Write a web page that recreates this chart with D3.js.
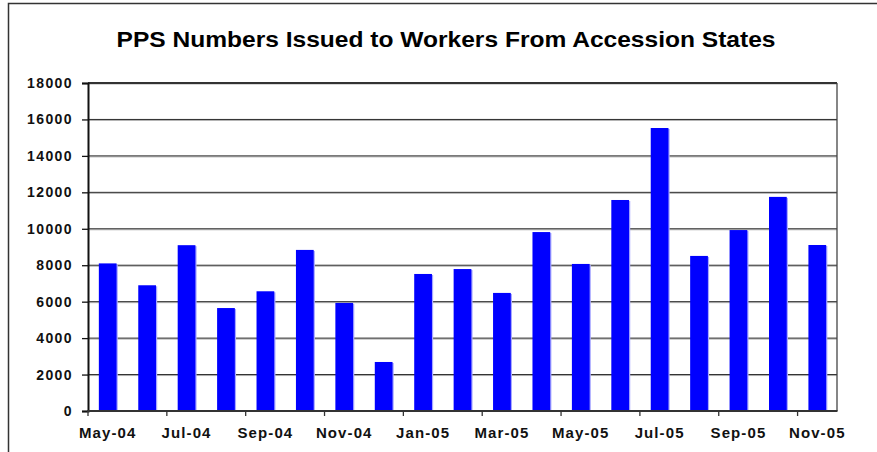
<!DOCTYPE html>
<html>
<head>
<meta charset="utf-8">
<script src="https://cdn.jsdelivr.net/npm/d3@7"></script>
<style>
  html, body { margin: 0; padding: 0; background: #fff; }
  svg { display: block; font-family: "Liberation Sans", Arial, sans-serif; }
</style>
</head>
<body>
<svg id="chart" width="877" height="452"></svg>
<script>
// Monthly PPS numbers issued to workers from the accession states
const months = ["May-04","Jun-04","Jul-04","Aug-04","Sep-04","Oct-04","Nov-04","Dec-04",
                "Jan-05","Feb-05","Mar-05","Apr-05","May-05","Jun-05","Jul-05","Aug-05",
                "Sep-05","Oct-05","Nov-05"];
const issued = [8100, 6900, 9100, 5650, 6570, 8840, 5930, 2690,
                7520, 7790, 6480, 9820, 8070, 11580, 15530, 8510,
                9930, 11750, 9110];
const yTicks = [0, 2000, 4000, 6000, 8000, 10000, 12000, 14000, 16000, 18000];
const titleText = "PPS Numbers Issued to Workers From Accession States";

const svg = d3.select("#chart");
const plot = { left: 88, right: 837, top: 83, bottom: 411 };

// outer chart frame (runs past the right and bottom edges)
svg.append("rect")
  .attr("x", 8.5).attr("y", 3.5)
  .attr("width", 900).attr("height", 500)
  .attr("fill", "none").attr("stroke", "#333").attr("stroke-width", 1.5);

svg.append("text")
  .attr("x", 446).attr("y", 47)
  .attr("text-anchor", "middle")
  .attr("font-size", 22).attr("font-weight", "bold")
  .attr("textLength", 659).attr("lengthAdjust", "spacingAndGlyphs")
  .attr("fill", "#000")
  .text(titleText);

const x = d3.scaleBand()
  .domain(months)
  .range([plot.left, plot.right])
  .paddingInner(0.55)
  .paddingOuter(0.275);

const y = d3.scaleLinear()
  .domain([0, 18000])
  .range([plot.bottom, plot.top]);

// horizontal gridlines with a faint shading line under each
const grid = svg.append("g");
yTicks.filter(t => t > 0).forEach(t => {
  grid.append("line")
    .attr("x1", plot.left).attr("x2", plot.right)
    .attr("y1", y(t) + 1).attr("y2", y(t) + 1)
    .attr("stroke", "#b0b0b0").attr("stroke-width", 1);
  grid.append("line")
    .attr("x1", plot.left).attr("x2", plot.right)
    .attr("y1", y(t)).attr("y2", y(t))
    .attr("stroke", t === 18000 ? "#333" : "#2a2a2a")
    .attr("stroke-width", t === 18000 ? 1.8 : 1);
});

// right border of the plot area
svg.append("line")
  .attr("x1", plot.right).attr("x2", plot.right)
  .attr("y1", plot.top).attr("y2", plot.bottom)
  .attr("stroke", "#444").attr("stroke-width", 1.3);

// bars: light offset shadow, then the solid bar
const bars = svg.append("g");
bars.selectAll("rect.shadow")
  .data(issued)
  .join("rect")
  .attr("class", "shadow")
  .attr("x", (d, i) => x(months[i]) + 1.2)
  .attr("y", d => y(d) + 1)
  .attr("width", x.bandwidth())
  .attr("height", d => plot.bottom - y(d) - 1)
  .attr("fill", "#a8a8ff");
bars.selectAll("rect.bar")
  .data(issued)
  .join("rect")
  .attr("class", "bar")
  .attr("x", (d, i) => x(months[i]))
  .attr("y", d => y(d))
  .attr("width", x.bandwidth())
  .attr("height", d => plot.bottom - y(d))
  .attr("fill", "#0000ff");

// y axis
const yAxis = svg.append("g")
  .attr("transform", `translate(${plot.left},0)`)
  .call(d3.axisLeft(y).tickValues(yTicks).tickSize(6).tickPadding(9).tickFormat(d3.format("d")));
yAxis.select(".domain").attr("stroke", "#111").attr("stroke-width", 2);
yAxis.selectAll(".tick line").attr("stroke", "#111").attr("stroke-width", 1.3);
yAxis.selectAll(".tick text")
  .attr("font-size", 14).attr("font-weight", "bold")
  .attr("font-family", "Liberation Sans, Arial, sans-serif")
  .attr("letter-spacing", "1.4px")
  .attr("fill", "#111");

// x axis: ticks at every second month boundary, label on the first month of each pair
const step = x.step();
const gap = step - x.bandwidth();
const labelled = months.filter((m, i) => i % 2 === 0);
const xAxis = svg.append("g");
xAxis.append("line")
  .attr("x1", plot.left - 1).attr("x2", plot.right + 0.5)
  .attr("y1", plot.bottom).attr("y2", plot.bottom)
  .attr("stroke", "#333").attr("stroke-width", 2);
labelled.forEach(m => {
  const bx = x(m) - gap / 2;
  if (bx < plot.right - 1) {
    xAxis.append("line")
      .attr("x1", bx).attr("x2", bx)
      .attr("y1", plot.bottom).attr("y2", plot.bottom + 5)
      .attr("stroke", "#333").attr("stroke-width", 1.3);
  }
  xAxis.append("text")
    .attr("x", x(m) + x.bandwidth() / 2)
    .attr("y", 438)
    .attr("text-anchor", "middle")
    .attr("font-size", 15).attr("font-weight", "bold")
    .attr("letter-spacing", "1.1px")
    .attr("fill", "#111")
    .text(m);
});
</script>
</body>
</html>
